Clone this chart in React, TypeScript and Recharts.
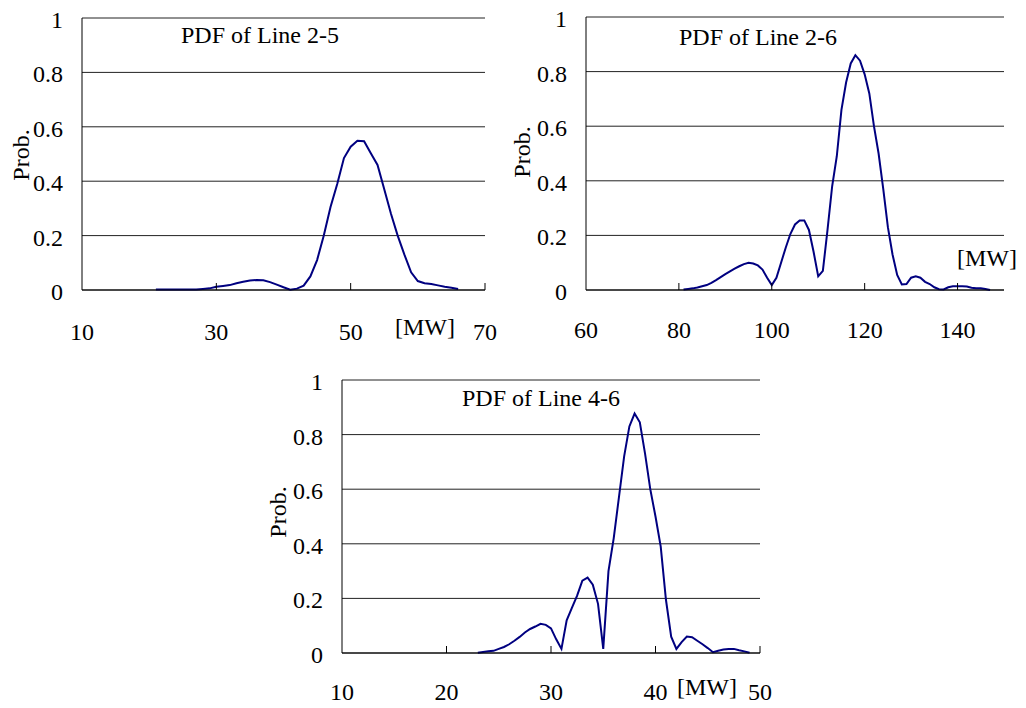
import React from "react";
import { LineChart, Line, XAxis, YAxis, CartesianGrid } from "recharts";

// PDF of Line 2-5
const line25X = [21, 22, 23, 24, 25, 26, 27, 28, 29, 30, 31, 32, 33, 34, 35, 36, 37, 38, 39, 40, 41, 42, 43, 44, 45, 46, 47, 48, 49, 50, 51, 52, 53, 54, 55, 56, 57, 58, 59, 60, 61, 62, 63, 64, 65, 66];
const line25Y = [0.002, 0.002, 0.002, 0.002, 0.002, 0.002, 0.002, 0.004, 0.006, 0.012, 0.015, 0.018, 0.025, 0.03, 0.035, 0.037, 0.036, 0.029, 0.02, 0.01, 0.001, 0.005, 0.016, 0.05, 0.11, 0.2, 0.305, 0.39, 0.485, 0.527, 0.549, 0.547, 0.503, 0.46, 0.37, 0.28, 0.2, 0.13, 0.065, 0.033, 0.025, 0.022, 0.017, 0.012, 0.008, 0.004];

// PDF of Line 2-6
const line26X = [81, 82, 83, 84, 85, 86, 87, 88, 89, 90, 91, 92, 93, 94, 95, 96, 97, 98, 99, 100, 101, 102, 103, 104, 105, 106, 107, 108, 109, 110, 111, 112, 113, 114, 115, 116, 117, 118, 119, 120, 121, 122, 123, 124, 125, 126, 127, 128, 129, 130, 131, 132, 133, 134, 135, 136, 137, 138, 139, 140, 141, 142, 143, 144, 145, 146, 147];
const line26Y = [0.002, 0.004, 0.006, 0.009, 0.014, 0.018, 0.026, 0.036, 0.047, 0.058, 0.068, 0.078, 0.087, 0.095, 0.1, 0.097, 0.09, 0.075, 0.045, 0.018, 0.045, 0.1, 0.155, 0.205, 0.24, 0.255, 0.255, 0.22, 0.14, 0.05, 0.07, 0.22, 0.38, 0.49, 0.66, 0.76, 0.83, 0.86, 0.84, 0.79, 0.72, 0.6, 0.5, 0.37, 0.23, 0.13, 0.055, 0.02, 0.022, 0.045, 0.05, 0.045, 0.03, 0.022, 0.01, 0.003, 0.002, 0.01, 0.014, 0.014, 0.014, 0.013, 0.008, 0.006, 0.006, 0.004, 0];

// PDF of Line 4-6
const line46X = [23, 23.5, 24, 24.5, 25, 25.5, 26, 26.5, 27, 27.5, 28, 28.5, 29, 29.5, 30, 30.5, 31, 31.5, 32, 32.5, 33, 33.5, 34, 34.5, 35, 35.5, 36, 36.5, 37, 37.5, 38, 38.5, 39, 39.5, 40, 40.5, 41, 41.5, 42, 42.5, 43, 43.5, 44, 44.5, 45, 45.5, 46, 46.5, 47, 47.5, 48, 48.5, 49];
const line46Y = [0.001, 0.004, 0.006, 0.008, 0.015, 0.022, 0.032, 0.045, 0.059, 0.075, 0.088, 0.097, 0.107, 0.103, 0.09, 0.05, 0.015, 0.12, 0.165, 0.21, 0.265, 0.276, 0.25, 0.18, 0.015, 0.3, 0.42, 0.57, 0.72, 0.83, 0.877, 0.845, 0.73, 0.6, 0.5, 0.39, 0.195, 0.06, 0.015, 0.04, 0.06, 0.058, 0.045, 0.032, 0.018, 0.003, 0.008, 0.013, 0.015, 0.015, 0.01, 0.006, 0.001];

const probTicks = [0, 0.2, 0.4, 0.6, 0.8, 1];
const ticks25 = [10, 30, 50, 70];
const ticks26 = [60, 80, 100, 120, 140];
const ticks46 = [10, 20, 30, 40, 50];

const FONT = '"Liberation Serif", "Times New Roman", serif';
const NAVY = "#000080";

const zip = (xs: number[], ys: number[]) => xs.map((x, i) => ({ x, y: ys[i] }));

const makeXTick = (dy: number, min: number) => (props: any) => {
  const { x, y, payload } = props;
  return (
    <g>
      {payload.value !== min && <line x1={x} x2={x} y1={y} y2={y - 7} stroke="#000" />}
      <text x={x} y={y + dy} textAnchor="middle" fontFamily={FONT} fontSize={24} fill="#000">
        {payload.value}
      </text>
    </g>
  );
};

const yTick = (props: any) => {
  const { x, y, payload } = props;
  return (
    <text x={x - 19} y={y + 10} textAnchor="end" fontFamily={FONT} fontSize={24} fill="#000">
      {payload.value}
    </text>
  );
};

function Txt({ cx, cy, children, rotate }: { cx: number; cy: number; children: React.ReactNode; rotate?: boolean }) {
  return (
    <div
      style={{
        position: "absolute",
        left: cx,
        top: cy,
        transform: `translate(-50%, -50%)${rotate ? " rotate(-90deg)" : ""}`,
        fontFamily: FONT,
        fontSize: 24,
        lineHeight: 1,
        whiteSpace: "nowrap",
        color: "#000",
      }}
    >
      {children}
    </div>
  );
}

function Pdf({ data, width, height, margin, domain, ticks, tickDy }: any) {
  return (
    <LineChart width={width} height={height} data={data} margin={margin}>
      <CartesianGrid vertical={false} stroke="#222" strokeOpacity={1} />
      <XAxis
        type="number"
        dataKey="x"
        domain={domain}
        ticks={ticks}
        allowDataOverflow
        height={50}
        tickSize={0}
        tickMargin={0}
        axisLine={{ stroke: "#000" }}
        tick={makeXTick(tickDy, domain[0])}
        interval={0}
      />
      <YAxis
        type="number"
        domain={[0, 1]}
        ticks={probTicks}
        width={60}
        tickSize={0}
        tickMargin={0}
        axisLine={{ stroke: "#000" }}
        tick={yTick}
        interval={0}
      />
      <Line type="linear" dataKey="y" stroke={NAVY} strokeWidth={2} dot={false} isAnimationActive={false} />
    </LineChart>
  );
}

export default function App() {
  return (
    <div style={{ position: "absolute", left: 0, top: 0, width: 1026, height: 708, background: "#fff" }}>
      <div style={{ position: "absolute", left: 0, top: 0 }}>
        <Pdf
          data={zip(line25X, line25Y)}
          width={500}
          height={350}
          margin={{ top: 18, right: 15, bottom: 10, left: 22 }}
          domain={[10, 70]}
          ticks={ticks25}
          tickDy={50}
        />
      </div>
      <div style={{ position: "absolute", left: 500, top: 0 }}>
        <Pdf
          data={zip(line26X, line26Y)}
          width={526}
          height={350}
          margin={{ top: 17, right: 22, bottom: 10, left: 26 }}
          domain={[60, 150]}
          ticks={ticks26}
          tickDy={48}
        />
      </div>
      <div style={{ position: "absolute", left: 260, top: 360 }}>
        <Pdf
          data={zip(line46X, line46Y)}
          width={520}
          height={348}
          margin={{ top: 20, right: 20, bottom: 5, left: 22 }}
          domain={[10, 50]}
          ticks={ticks46}
          tickDy={47}
        />
      </div>

      <Txt cx={260} cy={35}>PDF of Line 2-5</Txt>
      <Txt cx={758} cy={37}>PDF of Line 2-6</Txt>
      <Txt cx={541} cy={398}>PDF of Line 4-6</Txt>

      <Txt cx={21} cy={155} rotate>Prob.</Txt>
      <Txt cx={522} cy={152} rotate>Prob.</Txt>
      <Txt cx={278} cy={512} rotate>Prob.</Txt>

      <Txt cx={425} cy={327}>[MW]</Txt>
      <Txt cx={987} cy={258}>[MW]</Txt>
      <Txt cx={707} cy={687}>[MW]</Txt>
    </div>
  );
}
